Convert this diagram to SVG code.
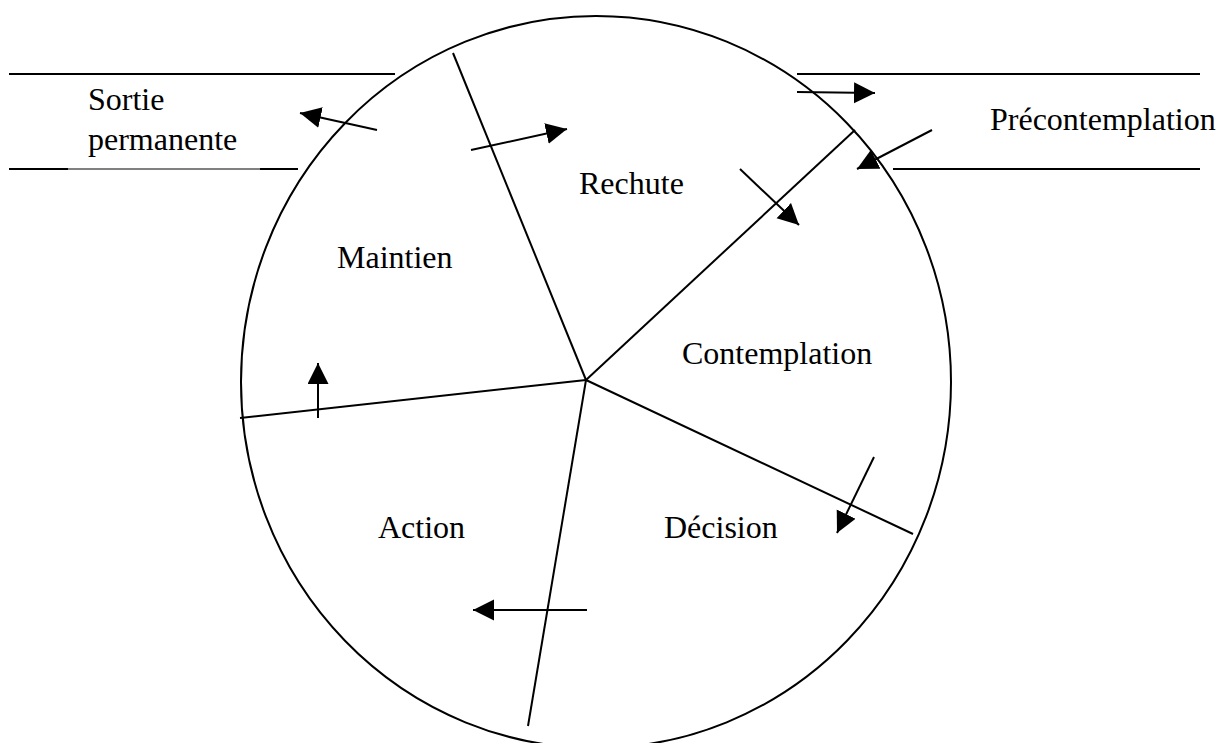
<svg xmlns="http://www.w3.org/2000/svg" width="1223" height="743" viewBox="0 0 1223 743">
<style>
.ln{stroke:#000;stroke-width:2;fill:none}
.thin{stroke:#000;stroke-width:1;fill:none}
.ar{stroke:#000;stroke-width:2;fill:none;marker-end:url(#ah)}
text{font-family:"Liberation Serif","Times New Roman",serif;font-size:32px;fill:#000}
</style>
<defs>
<marker id="ah" markerUnits="userSpaceOnUse" markerWidth="22" markerHeight="22" refX="21" refY="10.5" orient="auto">
<path d="M0,0 L21,10.5 L0,21 z" fill="#000"/>
</marker>
</defs>
<rect width="1223" height="743" fill="#fff"/>
<g id="wheel">
<ellipse class="ln" cx="596" cy="382" rx="355" ry="366"/>
<line class="ln" x1="586" y1="380" x2="453" y2="53"/>
<line class="ln" x1="586" y1="380" x2="855" y2="130"/>
<line class="ln" x1="586" y1="380" x2="913" y2="534"/>
<line class="ln" x1="586" y1="380" x2="528" y2="726"/>
<line class="ln" x1="586" y1="380" x2="240" y2="418"/>
</g>
<g id="sortie">
<line class="ln" x1="9" y1="74" x2="395" y2="74"/>
<line class="ln" x1="9" y1="169" x2="68" y2="169"/>
<line class="thin" x1="68" y1="169" x2="260" y2="169"/>
<line class="ln" x1="260" y1="169" x2="298" y2="169"/>
<text x="88" y="110">Sortie</text>
<text x="88" y="150">permanente</text>
</g>
<g id="precontemplation">
<line class="ln" x1="797" y1="74" x2="1200" y2="74"/>
<line class="ln" x1="893" y1="169" x2="1200" y2="169"/>
<text x="990" y="130">Précontemplation</text>
</g>
<g id="rechute"><text x="579" y="194">Rechute</text></g>
<g id="maintien"><text x="337" y="268">Maintien</text></g>
<g id="contemplation"><text x="682" y="364">Contemplation</text></g>
<g id="action"><text x="378" y="538">Action</text></g>
<g id="decision"><text x="664" y="538">Décision</text></g>
<g id="connectors">
<line class="ar" x1="377" y1="130" x2="300" y2="113"/>
<line class="ar" x1="471" y1="150" x2="567" y2="129"/>
<line class="ar" x1="797" y1="92" x2="875" y2="93"/>
<line class="ar" x1="932" y1="130" x2="857" y2="169"/>
<line class="ar" x1="740" y1="169" x2="799" y2="225"/>
<line class="ar" x1="874" y1="457" x2="837" y2="533"/>
<line class="ar" x1="587" y1="610" x2="473" y2="610"/>
<line class="ar" x1="318" y1="418" x2="318" y2="363"/>
</g>
</svg>
